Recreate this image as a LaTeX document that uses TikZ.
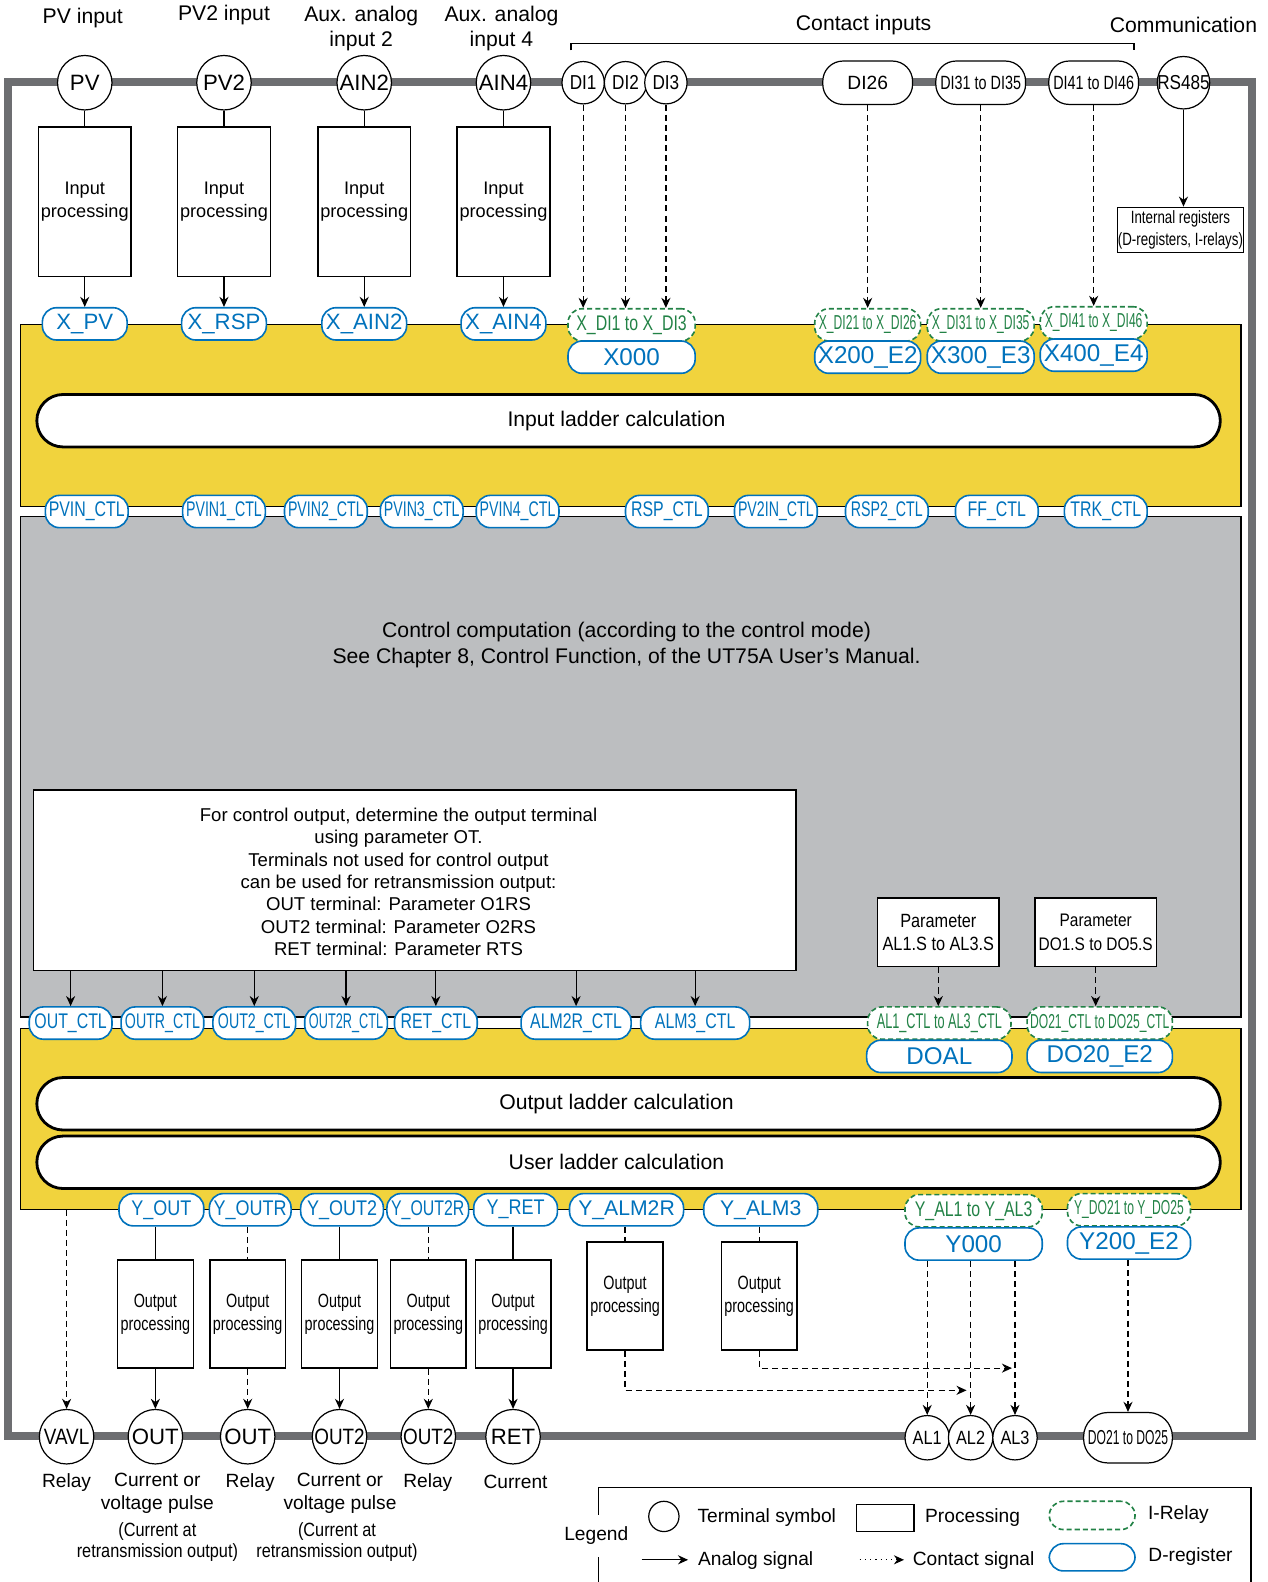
\documentclass[tikz,border=0pt]{standalone}
\usepackage{fontspec}
\setmainfont{Liberation Sans}
\newfontfamily\nfa[FakeStretch=0.85]{Liberation Sans}
\newfontfamily\nfb[FakeStretch=0.75]{Liberation Sans}
\newfontfamily\nfd[FakeStretch=0.67]{Liberation Sans}
\newfontfamily\nfc[FakeStretch=0.6]{Liberation Sans}
\usetikzlibrary{arrows.meta}
\definecolor{framegray}{RGB}{109,110,113}
\definecolor{ctlgray}{RGB}{188,190,192}
\definecolor{ladyellow}{RGB}{241,211,61}
\definecolor{regblue}{RGB}{0,114,188}
\definecolor{relgreen}{RGB}{34,130,70}
\newcommand{\fsz}[2]{\fontsize{#1}{#2}\selectfont}
\begin{document}
\begin{tikzpicture}[x=0.5pt,y=-0.5pt,
  bigterm/.style={circle,draw,line width=0.6pt,fill=white,inner sep=-3pt,minimum size=27pt,font=\fsz{11}{11}},
  smterm/.style={circle,draw,line width=0.6pt,fill=white,inner sep=-3pt,minimum size=21pt,font=\nfa\fsz{10}{10}},
  pill/.style={rectangle,rounded corners=10pt,draw,line width=0.6pt,fill=white,inner sep=0pt,minimum width=44.5pt,minimum height=21.5pt},
  proc/.style={rectangle,draw,line width=0.7pt,fill=white,inner sep=0pt,align=center},
  dreg/.style={rectangle,rounded corners=7pt,draw=regblue,line width=0.8pt,fill=white,text=regblue,inner sep=0pt,minimum height=16pt,minimum width=#1},
  dreg/.default=40pt,
  irel/.style={rectangle,rounded corners=7pt,draw=relgreen,dash pattern=on 2.5pt off 1.5pt,line width=0.8pt,fill=white,text=relgreen,inner sep=0pt,minimum height=16pt,minimum width=#1},
  irel/.default=40pt,
  ladder/.style={rectangle,rounded corners=13pt,draw,line width=1.4pt,fill=white,minimum width=586.5pt,minimum height=26pt},
  sig/.style={line width=0.6pt,-{Stealth[length=5pt,width=4.5pt]}},
  cont/.style={sig,dash pattern=on 3pt off 2pt},
  lbl/.style={align=center,font=\fsz{10.5}{12.5}},
  lg/.style={font=\fsz{9.5}{11}}]
\useasboundingbox (0,0) rectangle (1256,1568);

\draw[framegray,line width=4pt] (8,81) rectangle (1241,1423);
\draw[line width=0.6pt,fill=ladyellow] (20,322) rectangle (1230,502);
\draw[line width=0.6pt,fill=ctlgray] (20,512) rectangle (1230,1008);
\draw[line width=0.6pt,fill=ladyellow] (20,1019) rectangle (1230,1199);

\node[lbl] (lpv) at (82,18) {PV input};
\node[lbl] (lpv2) at (222,15) {PV2 input};
\node[lbl] (lain2) at (358,28) {Aux. analog\\input 2};
\node[lbl] (lain4) at (497,28) {Aux. analog\\input 4};
\node[lbl] (lci) at (856,25) {Contact inputs};
\node[lbl] (lcom) at (1173,25) {Communication};
\draw[line width=0.6pt] (566,50) -- (566,43) -- (1124,43) -- (1124,50);

\foreach \n/\lab/\x in {pv/PV/84,pv2/PV2/222,ain2/AIN2/361,ain4/AIN4/499}
  \node[bigterm] (t\n) at (\x,82) {\lab};
\foreach \n/\x in {pv/84,pv2/222,ain2/361,ain4/499}
  \node[proc,minimum width=46pt,minimum height=74pt,font=\fsz{9}{11.5}] (ip\n) at (\x,200) {Input\\processing};
\foreach \n/\lab/\x in {pv/X\_PV/84,pv2/X\_RSP/222,ain2/X\_AIN2/361,ain4/X\_AIN4/499}
  \node[dreg=42pt,font=\fsz{11}{11}] (x\n) at (\x,321) {\lab};
\foreach \n in {pv,pv2,ain2,ain4}{
  \draw[line width=0.6pt] (t\n) -- (ip\n);
  \draw[sig] (ip\n) -- (x\n);
}

\foreach \i/\x in {1/578,2/620,3/660}
  \node[smterm] (tdi\i) at (\x,82) {DI\i};
\node[pill,font=\fsz{9.5}{9.5}] (tdi26) at (860,82) {DI26};
\node[pill,font=\nfb\fsz{9.5}{9.5}] (tdi35) at (972,82) {DI31 to DI35};
\node[pill,font=\nfb\fsz{9.5}{9.5}] (tdi46) at (1084,82) {DI41 to DI46};
\node[bigterm,minimum size=26pt,font=\nfa\fsz{10}{10}] (trs) at (1173,82) {RS485};

\node[irel=63pt,font=\nfb\fsz{10.5}{10.5}] (xdi13) at (626,322) {X\_DI1 to X\_DI3};
\node[dreg=63pt,font=\fsz{12}{12}] (x000) at (626,354) {X000};
\node[irel=52.5pt,font=\nfc\fsz{10}{10}] (xdi26) at (860,322) {X\_DI21 to X\_DI26};
\node[dreg=52.5pt,font=\fsz{12}{12}] (x200) at (860,354) {X200\_E2};
\node[irel=53pt,font=\nfc\fsz{10}{10}] (xdi35) at (972,322) {X\_DI31 to X\_DI35};
\node[dreg=53pt,font=\fsz{12}{12}] (x300) at (972,354) {X300\_E3};
\node[irel=53pt,font=\nfc\fsz{10}{10}] (xdi46) at (1084,320) {X\_DI41 to X\_DI46};
\node[dreg=53pt,font=\fsz{12}{12}] (x400) at (1084,352) {X400\_E4};
\foreach \i in {1,2,3}
  \draw[cont] (tdi\i) -- (tdi\i |- xdi13.north);
\foreach \n in {26,35,46}
  \draw[cont] (tdi\n) -- (xdi\n);

\node[proc,minimum width=62.5pt,minimum height=22.5pt,font=\nfb\fsz{8.8}{11}] (intreg) at (1170,228) {Internal registers\\(D-registers, I-relays)};
\draw[sig] (trs) -- (trs |- intreg.north);

\node[ladder] (inlad) at (623,417) {};
\node[font=\fsz{10.5}{12}] (inladtxt) at (611,417) {Input ladder calculation};
\foreach \n/\lab/\x/\f in {pvin/PVIN\_CTL/86/\nfb,pvin1/PVIN1\_CTL/222/\nfd,pvin2/PVIN2\_CTL/323/\nfd,pvin3/PVIN3\_CTL/418/\nfd,pvin4/PVIN4\_CTL/513/\nfd,rsp/RSP\_CTL/661/\nfb,pv2in/PV2IN\_CTL/769/\nfd,rsp2/RSP2\_CTL/879/\nfd,ff/FF\_CTL/988/\nfb,trk/TRK\_CTL/1096/\nfb}
  \node[dreg=41pt,font=\f\fsz{10.5}{10.5}] (c\n) at (\x,507) {\lab};

\node[lbl,font=\fsz{10.5}{13}] (ctltxt) at (621,639) {Control computation (according to the control mode)\\See Chapter 8, Control Function, of the UT75A User’s Manual.};

\node[proc,minimum width=378pt,minimum height=89.5pt] (otbox) at (411,872.5) {};
\node[align=center,font=\fsz{9.2}{11.1}] (ottxt) at (395,874) {For control output, determine the output terminal\\using parameter OT.\\Terminals not used for control output\\can be used for retransmission output:\\OUT terminal: Parameter O1RS\\OUT2 terminal: Parameter O2RS\\RET terminal: Parameter RTS};

\node[proc,minimum width=60pt,minimum height=34pt,font=\nfa\fsz{9.5}{11.5}] (paral) at (930,924) {Parameter\\AL1.S to AL3.S};
\node[proc,minimum width=60pt,minimum height=34pt,font=\nfa\fsz{9}{11.5}] (pardo) at (1086,924) {Parameter\\DO1.S to DO5.S};

\foreach \n/\lab/\x/\f in {out/OUT\_CTL/70/\nfb,outr/OUTR\_CTL/161/\nfd,out2/OUT2\_CTL/252/\nfd,out2r/OUT2R\_CTL/343/\nfc,ret/RET\_CTL/432/\nfb}
  \node[dreg=41pt,font=\f\fsz{10.5}{10.5}] (c\n) at (\x,1014) {\lab};
\node[dreg=54.5pt,font=\nfb\fsz{10.5}{10.5}] (calm2r) at (571,1014) {ALM2R\_CTL};
\node[dreg=54pt,font=\nfb\fsz{10.5}{10.5}] (calm3) at (689,1014) {ALM3\_CTL};
\node[irel=71pt,font=\nfc\fsz{10.5}{10.5}] (cal) at (931,1014) {AL1\_CTL to AL3\_CTL};
\node[irel=72pt,font=\nfc\fsz{10}{10}] (cdo) at (1090,1014) {DO21\_CTL to DO25\_CTL};
\node[dreg=72pt,font=\fsz{12}{12}] (doal) at (931,1047) {DOAL};
\node[dreg=72pt,font=\fsz{12}{12}] (do20) at (1090,1047) {DO20\_E2};
\foreach \n in {out,outr,out2,out2r,ret,alm2r,alm3}
  \draw[sig] (otbox.south -| c\n) -- (c\n);
\draw[cont] (paral) -- (paral |- cal.north);
\draw[cont] (pardo) -- (pardo |- cdo.north);

\node[ladder] (outlad) at (623,1094) {};
\node[font=\fsz{10.5}{12}] (outladtxt) at (611,1094) {Output ladder calculation};
\node[ladder] (userlad) at (623,1152) {};
\node[font=\fsz{10.5}{12}] (userladtxt) at (611,1152) {User ladder calculation};

\foreach \n/\lab/\x/\w/\f in {out/Y\_OUT/160/42pt/\nfa,outr/Y\_OUTR/248/40.5pt/\nfa,out2/Y\_OUT2/339/41pt/\nfa,out2r/Y\_OUT2R/424/40.5pt/\nfb,ret/Y\_RET/511/41.5pt/\nfa}
  \node[dreg=\w,font=\f\fsz{10.5}{10.5}] (y\n) at (\x,1199) {\lab};
\node[dreg=56.5pt,font=\fsz{10.5}{10.5}] (yalm2r) at (621,1199) {Y\_ALM2R};
\node[dreg=56.5pt,font=\fsz{10.5}{10.5}] (yalm3) at (754,1199) {Y\_ALM3};
\node[irel=68pt,font=\nfb\fsz{10.5}{10.5}] (yal) at (965,1200) {Y\_AL1 to Y\_AL3};
\node[dreg=68pt,font=\fsz{12}{12}] (y000) at (965,1233) {Y000};
\node[irel=61pt,font=\nfc\fsz{10}{10}] (ydo) at (1119,1199) {Y\_DO21 to Y\_DO25};
\node[dreg=61pt,font=\fsz{12}{12}] (y200) at (1119,1232) {Y200\_E2};

\foreach \n/\x/\y in {out/154/1302.5,outr/245.5/1302.5,out2/336.5/1302.5,out2r/424.5/1302.5,ret/508.5/1302.5,alm2r/619.5/1284.5,alm3/752.5/1284.5}
  \node[proc,minimum width=37.5pt,minimum height=53.5pt,font=\nfb\fsz{9.5}{11.5}] (op\n) at (\x,\y) {Output\\processing};
\foreach \n in {out,out2,ret}
  \draw[line width=0.6pt] (y\n.south -| op\n) -- (op\n);
\foreach \n in {outr,out2r,alm2r,alm3}
  \draw[line width=0.6pt,dash pattern=on 3pt off 2pt] (y\n.south -| op\n) -- (op\n);

\node[bigterm,font=\nfa\fsz{11}{11}] (tvavl) at (66,1424) {VAVL};
\node[bigterm] (tout) at (154,1424) {OUT};
\node[bigterm] (toutb) at (245.5,1424) {OUT};
\node[bigterm,font=\nfa\fsz{11}{11}] (tout2) at (336.5,1424) {OUT2};
\node[bigterm,font=\nfa\fsz{11}{11}] (tout2b) at (424.5,1424) {OUT2};
\node[bigterm] (tret) at (508.5,1424) {RET};
\draw[sig] (opout) -- (tout);
\draw[cont] (opoutr) -- (toutb);
\draw[sig] (opout2) -- (tout2);
\draw[cont] (opout2r) -- (tout2b);
\draw[sig] (opret) -- (tret);
\coordinate (vavltop) at (66,1199);
\draw[cont] (vavltop) -- (tvavl);

\foreach \i/\x in {1/919,2/962,3/1006}
  \node[smterm,minimum size=22pt,font=\nfa\fsz{9.5}{9.5}] (tal\i) at (\x,1425) {AL\i};
\foreach \i in {1,2,3}
  \draw[cont] (y000.south -| tal\i) -- (tal\i);
\node[pill,minimum width=44pt,minimum height=25pt,rounded corners=12pt,font=\nfc\fsz{10}{10}] (tdo) at (1118,1425) {DO21 to DO25};
\draw[cont] (y200.south -| tdo) -- (tdo);
\coordinate (al2in) at (958,1378);
\coordinate (al3in) at (1003,1356);
\draw[cont] (opalm2r) |- (al2in);
\draw[cont] (opalm3) |- (al3in);

\node[font=\fsz{9.5}{11}] (lrel1) at (66,1469) {Relay};
\node[align=center,font=\fsz{9.5}{11}] (lcur1) at (156,1480) {Current or\\voltage pulse};
\node[align=center,font=\nfa\fsz{9.5}{10.5}] (lret1) at (156,1528) {(Current at\\retransmission output)};
\node[font=\fsz{9.5}{11}] (lrel2) at (248,1469) {Relay};
\node[align=center,font=\fsz{9.5}{11}] (lcur2) at (337,1480) {Current or\\voltage pulse};
\node[align=center,font=\nfa\fsz{9.5}{10.5}] (lret2) at (334,1528) {(Current at\\retransmission output)};
\node[font=\fsz{9.5}{11}] (lrel3) at (424,1469) {Relay};
\node[font=\fsz{9.5}{11}] (lcur3) at (511,1469) {Current};

\draw[line width=0.6pt] (593,1568) -- (593,1474) -- (1240,1474) -- (1240,1568);
\node[lg,fill=white,inner ysep=6pt] (lgtitle) at (591,1522) {Legend};
\node[circle,draw,line width=0.6pt,minimum size=15pt,inner sep=0pt] (lgterm) at (658,1503) {};
\node[lg] (lgterml) at (760,1504) {Terminal symbol};
\node[proc,minimum width=28.5pt,minimum height=13.5pt] (lgproc) at (877.5,1504.5) {};
\node[lg] (lgprocl) at (964,1504) {Processing};
\node[irel=42.5pt,minimum height=14pt] (lgirel) at (1082.5,1502) {};
\node[lg] (lgirell) at (1168,1501) {I-Relay};
\coordinate (lga1) at (636,1546);
\coordinate (lga2) at (682,1546);
\draw[sig] (lga1) -- (lga2);
\node[lg] (lgal) at (749,1547) {Analog signal};
\coordinate (lgc1) at (852,1546);
\coordinate (lgc2) at (896,1546);
\draw[line width=0.6pt,dotted,-{Stealth[length=5pt,width=4.5pt]}] (lgc1) -- (lgc2);
\node[lg] (lgcl) at (965,1547) {Contact signal};
\node[dreg=42.5pt,minimum height=13.5pt] (lgdreg) at (1082.5,1543.5) {};
\node[lg] (lgdregl) at (1180,1543) {D-register};
\end{tikzpicture}
\end{document}
